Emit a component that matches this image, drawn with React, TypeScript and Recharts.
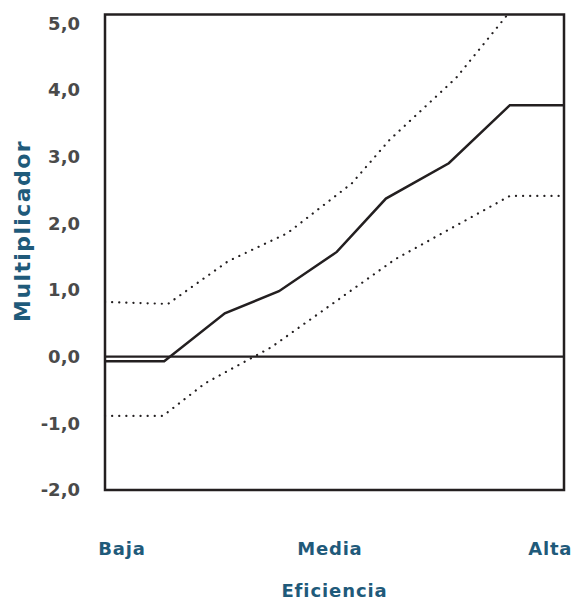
import { Label, Line, LineChart, ReferenceArea, ReferenceLine, XAxis, YAxis } from "recharts";

const centralX = [0, 12.9, 26.1, 37.9, 50.5, 61.2, 74.9, 88.2, 100];
const centralY = [-0.07, -0.07, 0.65, 0.98, 1.57, 2.37, 2.9, 3.77, 3.77];

const upperX = [0, 13.7, 26.8, 39.7, 53.8, 62, 76.5, 88.2, 100];
const upperY = [0.82, 0.79, 1.43, 1.85, 2.6, 3.25, 4.18, 5.17, 5.17];

const lowerX = [0, 12.6, 21.8, 36.2, 63.2, 88.2, 100];
const lowerY = [-0.89, -0.89, -0.4, 0.14, 1.46, 2.41, 2.41];

const yTicks = [-2, -1, 0, 1, 2, 3, 4, 5];
// "Alta" sits a bit left of the corner so it is not clipped at the page edge
const xTickValues = [3.7, 49, 97];
const xTickLabels = ["Baja", "Media", "Alta"];

const toPoints = (xs: number[], ys: number[]) => xs.map((x, i) => ({ x, y: ys[i] }));

const central = toPoints(centralX, centralY);
const upper = toPoints(upperX, upperY);
const lower = toPoints(lowerX, lowerY);

const INK = "#231f20";
const BLUE = "#1f5a7a";
const GREY = "#4a4a4a";
const FONT = "'DejaVu Sans', sans-serif";

const XTick = ({ x, y, payload }: any) => {
  const i = xTickValues.indexOf(payload.value);
  return (
    <text x={x} y={y} dy={57} textAnchor="middle" fill={BLUE} fontSize={18} fontWeight={700} fontFamily={FONT} letterSpacing={0.8}>
      {xTickLabels[i]}
    </text>
  );
};

const YTitle = () => (
  <text
    x={22}
    y={223}
    transform="rotate(-90, 22, 223)"
    textAnchor="middle"
    fill={BLUE}
    fontSize={22}
    fontWeight={700}
    fontFamily={FONT}
    letterSpacing={1.4}
  >
    Multiplicador
  </text>
);

export default function App() {
  return (
    <LineChart width={566} height={592} margin={{ top: 6.5, right: 10, bottom: 0, left: 0 }}>
      <XAxis
        type="number"
        dataKey="x"
        domain={[0, 100]}
        ticks={xTickValues}
        tick={<XTick />}
        tickLine={false}
        axisLine={false}
        height={110}
        allowDuplicatedCategory={false}
      >
        <Label
          value="Eficiencia"
          position="insideBottom"
          offset={3}
          fill={BLUE}
          fontSize={18}
          fontWeight={700}
          fontFamily={FONT}
          letterSpacing={0.9}
        />
      </XAxis>
      <YAxis
        type="number"
        domain={[-2, 5.13]}
        ticks={yTicks}
        allowDataOverflow
        width={97}
        tickLine={false}
        axisLine={false}
        tickSize={6}
        tickMargin={19}
        tickFormatter={(v: number) => v.toFixed(1).replace(".", ",")}
        tick={{ fill: GREY, fontSize: 18, fontWeight: 700, fontFamily: FONT }}
        label={<YTitle />}
      />
      <ReferenceArea x1={0} x2={100} y1={-2} y2={5.13} fill="none" stroke={INK} strokeWidth={2.5} ifOverflow="visible" />
      <ReferenceLine y={0} stroke={INK} strokeWidth={2.2} />
      <Line data={upper} dataKey="y" stroke={INK} strokeWidth={2.2} strokeDasharray="0.1 7" strokeLinecap="round" dot={false} isAnimationActive={false} />
      <Line data={lower} dataKey="y" stroke={INK} strokeWidth={2.2} strokeDasharray="0.1 7" strokeLinecap="round" dot={false} isAnimationActive={false} />
      <Line data={central} dataKey="y" stroke={INK} strokeWidth={2.5} dot={false} isAnimationActive={false} />
    </LineChart>
  );
}
